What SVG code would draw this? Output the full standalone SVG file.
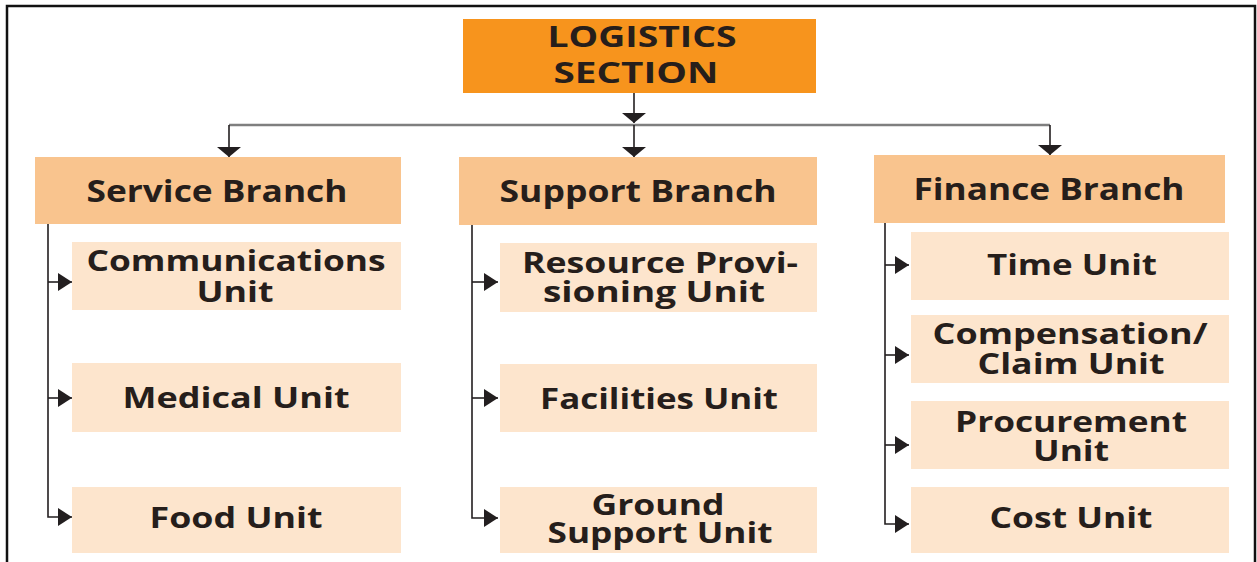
<svg xmlns="http://www.w3.org/2000/svg" width="1257" height="562" viewBox="0 0 1257 562">
  <style>
    .txt { font-family: "Open Sans", "Liberation Sans", sans-serif; font-weight: bold; fill: #261e1b; text-anchor: middle; }
    .head { font-size: 28px; }
    .branch { font-size: 30px; }
    .unit { font-size: 28px; }
    .top { fill: #f7941d; }
    .br { fill: #f9c48e; }
    .un { fill: #fde5cd; }
    .trunk { stroke: #231f20; stroke-width: 1.6; fill: none; }
    .bus { stroke: #7f7f7f; stroke-width: 2.5; fill: none; }
  </style>
  <defs>
    <marker id="down" viewBox="0 0 24 10" markerWidth="24" markerHeight="10" refX="12" refY="10" orient="0" markerUnits="userSpaceOnUse">
      <path d="M0,0 L24,0 L12,10 Z" fill="#231f20"/>
    </marker>
    <marker id="right" viewBox="0 0 14 18" markerWidth="14" markerHeight="18" refX="14" refY="9" orient="0" markerUnits="userSpaceOnUse">
      <path d="M0,0 L14,9 L0,18 Z" fill="#231f20"/>
    </marker>
  </defs>

  <rect x="0" y="0" width="1257" height="562" fill="#ffffff"/>
  <!-- frame -->
  <path d="M7,562 L7,6 L1255,6 L1255,562" fill="none" stroke="#111" stroke-width="2.5"/>

  <!-- connectors -->
  <g id="connectors">
    <line class="bus" x1="229" y1="125" x2="1050" y2="125"/>
    <line class="trunk" x1="634" y1="93" x2="634" y2="123" marker-end="url(#down)"/>
    <line class="trunk" x1="634" y1="125" x2="634" y2="157" marker-end="url(#down)"/>
    <line class="trunk" x1="229" y1="125" x2="229" y2="157" marker-end="url(#down)"/>
    <line class="trunk" x1="1050" y1="125" x2="1050" y2="155" marker-end="url(#down)"/>

    <!-- service branch -->
    <path class="trunk" d="M48,224 L48,517 L72,517" marker-end="url(#right)"/>
    <line class="trunk" x1="48" y1="282" x2="72" y2="282" marker-end="url(#right)"/>
    <line class="trunk" x1="48" y1="398" x2="72" y2="398" marker-end="url(#right)"/>

    <!-- support branch -->
    <path class="trunk" d="M472,225 L472,518 L498,518" marker-end="url(#right)"/>
    <line class="trunk" x1="472" y1="282" x2="498" y2="282" marker-end="url(#right)"/>
    <line class="trunk" x1="472" y1="398" x2="498" y2="398" marker-end="url(#right)"/>

    <!-- finance branch -->
    <path class="trunk" d="M885,223 L885,524 L909,524" marker-end="url(#right)"/>
    <line class="trunk" x1="885" y1="265" x2="909" y2="265" marker-end="url(#right)"/>
    <line class="trunk" x1="885" y1="355" x2="909" y2="355" marker-end="url(#right)"/>
    <line class="trunk" x1="885" y1="445" x2="909" y2="445" marker-end="url(#right)"/>
  </g>

  <!-- all labels are set in a horizontally widened face: x values are divided by 1.2 -->
  <g id="logistics-section">
    <rect class="top" x="463" y="19" width="353" height="74"/>
    <text class="txt head" transform="scale(1.2,1)" x="535" y="47" textLength="157.5" lengthAdjust="spacingAndGlyphs">LOGISTICS</text>
    <text class="txt head" transform="scale(1.2,1)" x="530" y="83" textLength="137.5" lengthAdjust="spacingAndGlyphs">SECTION</text>
  </g>

  <g id="service-branch">
    <rect class="br" x="35" y="157" width="366" height="67"/>
    <text class="txt branch" transform="scale(1.2,1)" x="180.8" y="202" textLength="217.5" lengthAdjust="spacingAndGlyphs">Service Branch</text>
  </g>
  <g id="support-branch">
    <rect class="br" x="459" y="157" width="358" height="68"/>
    <text class="txt branch" transform="scale(1.2,1)" x="531.7" y="202" textLength="230.8" lengthAdjust="spacingAndGlyphs">Support Branch</text>
  </g>
  <g id="finance-branch">
    <rect class="br" x="874" y="155" width="351" height="68"/>
    <text class="txt branch" transform="scale(1.2,1)" x="874.2" y="200" textLength="225.8" lengthAdjust="spacingAndGlyphs">Finance Branch</text>
  </g>

  <g id="communications-unit">
    <rect class="un" x="72" y="242" width="329" height="68"/>
    <text class="txt unit" transform="scale(1.2,1)" x="196.7" y="271" textLength="249.2" lengthAdjust="spacingAndGlyphs">Communications</text>
    <text class="txt unit" transform="scale(1.2,1)" x="195.8" y="302" textLength="64.2" lengthAdjust="spacingAndGlyphs">Unit</text>
  </g>
  <g id="medical-unit">
    <rect class="un" x="72" y="363" width="329" height="69"/>
    <text class="txt unit" transform="scale(1.2,1)" x="196.7" y="408" textLength="189.2" lengthAdjust="spacingAndGlyphs">Medical Unit</text>
  </g>
  <g id="food-unit">
    <rect class="un" x="72" y="487" width="329" height="66"/>
    <text class="txt unit" transform="scale(1.2,1)" x="196.7" y="528" textLength="144.2" lengthAdjust="spacingAndGlyphs">Food Unit</text>
  </g>

  <g id="resource-provisioning-unit">
    <rect class="un" x="500" y="243" width="317" height="69"/>
    <text class="txt unit" transform="scale(1.2,1)" x="550" y="273" textLength="230" lengthAdjust="spacingAndGlyphs">Resource Provi-</text>
    <text class="txt unit" transform="scale(1.2,1)" x="545" y="302" textLength="185" lengthAdjust="spacingAndGlyphs">sioning Unit</text>
  </g>
  <g id="facilities-unit">
    <rect class="un" x="500" y="364" width="317" height="68"/>
    <text class="txt unit" transform="scale(1.2,1)" x="549.2" y="409" textLength="198.3" lengthAdjust="spacingAndGlyphs">Facilities Unit</text>
  </g>
  <g id="ground-support-unit">
    <rect class="un" x="500" y="487" width="317" height="66"/>
    <text class="txt unit" transform="scale(1.2,1)" x="548.3" y="515" textLength="110.8" lengthAdjust="spacingAndGlyphs">Ground</text>
    <text class="txt unit" transform="scale(1.2,1)" x="550" y="543" textLength="187.5" lengthAdjust="spacingAndGlyphs">Support Unit</text>
  </g>

  <g id="time-unit">
    <rect class="un" x="911" y="232" width="318" height="68"/>
    <text class="txt unit" transform="scale(1.2,1)" x="893.3" y="275" textLength="141.7" lengthAdjust="spacingAndGlyphs">Time Unit</text>
  </g>
  <g id="compensation-claim-unit">
    <rect class="un" x="911" y="315" width="318" height="68"/>
    <text class="txt unit" transform="scale(1.2,1)" x="891.7" y="344" textLength="229.2" lengthAdjust="spacingAndGlyphs">Compensation/</text>
    <text class="txt unit" transform="scale(1.2,1)" x="892.5" y="374" textLength="155.8" lengthAdjust="spacingAndGlyphs">Claim Unit</text>
  </g>
  <g id="procurement-unit">
    <rect class="un" x="911" y="401" width="318" height="68"/>
    <text class="txt unit" transform="scale(1.2,1)" x="892.5" y="432" textLength="193.3" lengthAdjust="spacingAndGlyphs">Procurement</text>
    <text class="txt unit" transform="scale(1.2,1)" x="892.5" y="461" textLength="63.3" lengthAdjust="spacingAndGlyphs">Unit</text>
  </g>
  <g id="cost-unit">
    <rect class="un" x="911" y="487" width="318" height="66"/>
    <text class="txt unit" transform="scale(1.2,1)" x="892.5" y="528" textLength="135.8" lengthAdjust="spacingAndGlyphs">Cost Unit</text>
  </g>
</svg>
